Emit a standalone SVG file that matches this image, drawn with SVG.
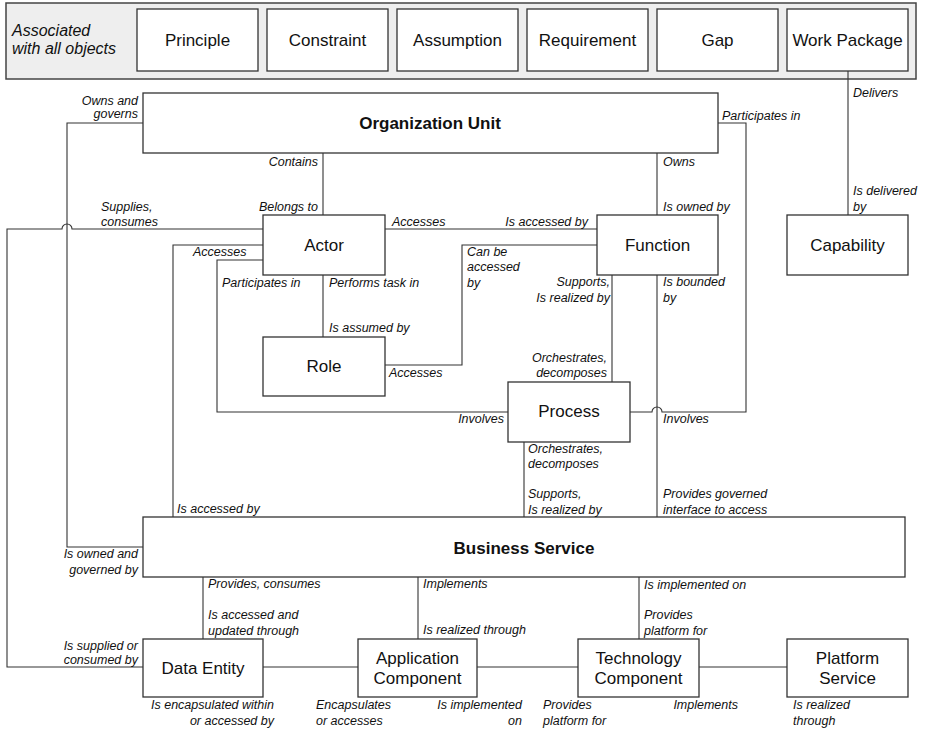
<svg xmlns="http://www.w3.org/2000/svg" width="927" height="730" viewBox="0 0 927 730">
<style>
.bg{fill:#ffffff}
.band{fill:#eeeeee;stroke:#444;stroke-width:1.5}
.box{fill:#ffffff;stroke:#333;stroke-width:1.3}
.n{font-family:"Liberation Sans",Arial,sans-serif;font-size:17px;fill:#111;text-anchor:middle}
.b{font-weight:bold}
.l{font-family:"Liberation Sans",Arial,sans-serif;font-size:12.5px;font-style:italic;fill:#111}
.e{text-anchor:end}
.c path{fill:none;stroke:#333;stroke-width:1.1}
</style>
<rect class="bg" x="0" y="0" width="927" height="730"/>
<g id="allobjects">
<rect class="band" x="6" y="3" width="910" height="76"/>
<text class="l" style="font-size:16px" x="12" y="36">Associated</text>
<text class="l" style="font-size:16px" x="12" y="54">with all objects</text>
</g>
<g id="principle"><rect class="box" x="137" y="9" width="121" height="62"/><text class="n" x="197.5" y="46">Principle</text></g>
<g id="constraint"><rect class="box" x="267" y="9" width="121" height="62"/><text class="n" x="327.5" y="46">Constraint</text></g>
<g id="assumption"><rect class="box" x="397" y="9" width="121" height="62"/><text class="n" x="457.5" y="46">Assumption</text></g>
<g id="requirement"><rect class="box" x="527" y="9" width="121" height="62"/><text class="n" x="587.5" y="46">Requirement</text></g>
<g id="gap"><rect class="box" x="657" y="9" width="121" height="62"/><text class="n" x="717.5" y="46">Gap</text></g>
<g id="workpackage"><rect class="box" x="787" y="9" width="121" height="62"/><text class="n" x="847.5" y="46">Work Package</text></g>

<g class="c" id="connectors">
<path d="M323,153 V215"/>
<path d="M657,153 V215"/>
<path d="M718,123 H746 V412 H662 A5,5 0 0 0 652,412 H630"/>
<path d="M143,123 H67 V547 H143"/>
<path d="M385,229 H597"/>
<path d="M263,229 H72 A5,5 0 0 0 62,229 H7 V667 H143"/>
<path d="M263,245 H173 V517"/>
<path d="M263,260 H217 V412 H508"/>
<path d="M323,275 V337"/>
<path d="M385,365 H462 V245 H597"/>
<path d="M612,275 V382"/>
<path d="M657,275 V517"/>
<path d="M524,442 V517"/>
<path d="M203,577 V639"/>
<path d="M418,577 V639"/>
<path d="M639,577 V639"/>
<path d="M263,667 H358"/>
<path d="M477,667 H578"/>
<path d="M699,667 H787"/>
<path d="M848,71 V215"/>
</g>

<g id="orgunit"><rect class="box" x="143" y="93" width="575" height="60"/><text class="n b" x="430" y="129">Organization Unit</text></g>
<g id="actor"><rect class="box" x="263" y="215" width="122" height="60"/><text class="n" x="324" y="251">Actor</text></g>
<g id="function"><rect class="box" x="597" y="215" width="121" height="60"/><text class="n" x="657.5" y="251">Function</text></g>
<g id="capability"><rect class="box" x="787" y="215" width="121" height="60"/><text class="n" x="847.5" y="251">Capability</text></g>
<g id="role"><rect class="box" x="263" y="337" width="122" height="59"/><text class="n" x="324" y="372">Role</text></g>
<g id="process"><rect class="box" x="508" y="382" width="122" height="60"/><text class="n" x="569" y="417">Process</text></g>
<g id="businessservice"><rect class="box" x="143" y="517" width="762" height="60"/><text class="n b" x="524" y="554">Business Service</text></g>
<g id="dataentity"><rect class="box" x="143" y="639" width="120" height="58"/><text class="n" x="203" y="674">Data Entity</text></g>
<g id="appcomponent"><rect class="box" x="358" y="639" width="119" height="58"/><text class="n" x="417.5" y="664">Application</text><text class="n" x="417.5" y="684">Component</text></g>
<g id="techcomponent"><rect class="box" x="578" y="639" width="121" height="58"/><text class="n" x="638.5" y="664">Technology</text><text class="n" x="638.5" y="684">Component</text></g>
<g id="platformservice"><rect class="box" x="787" y="639" width="121" height="58"/><text class="n" x="847.5" y="664">Platform</text><text class="n" x="847.5" y="684">Service</text></g>

<g id="labels">
<text class="l e" x="138" y="105">Owns and</text>
<text class="l e" x="138" y="118">governs</text>
<text class="l e" x="318" y="166">Contains</text>
<text class="l e" x="318" y="211">Belongs to</text>
<text class="l" x="101" y="211">Supplies,</text>
<text class="l" x="101" y="226">consumes</text>
<text class="l" x="392" y="226">Accesses</text>
<text class="l e" x="588" y="226">Is accessed by</text>
<text class="l" x="663" y="166">Owns</text>
<text class="l" x="663" y="211">Is owned by</text>
<text class="l" x="722" y="120">Participates in</text>
<text class="l" x="853" y="97">Delivers</text>
<text class="l" x="853" y="195">Is delivered</text>
<text class="l" x="853" y="211">by</text>
<text class="l" x="193" y="256">Accesses</text>
<text class="l" x="222" y="287">Participates in</text>
<text class="l" x="329" y="287">Performs task in</text>
<text class="l" x="467" y="256">Can be</text>
<text class="l" x="467" y="271">accessed</text>
<text class="l" x="467" y="287">by</text>
<text class="l e" x="610" y="286">Supports,</text>
<text class="l e" x="610" y="302">Is realized by</text>
<text class="l" x="663" y="286">Is bounded</text>
<text class="l" x="663" y="302">by</text>
<text class="l" x="329" y="332">Is assumed by</text>
<text class="l" x="389" y="377">Accesses</text>
<text class="l e" x="607" y="362">Orchestrates,</text>
<text class="l e" x="607" y="377">decomposes</text>
<text class="l e" x="504" y="423">Involves</text>
<text class="l" x="663" y="423">Involves</text>
<text class="l" x="528" y="453">Orchestrates,</text>
<text class="l" x="528" y="468">decomposes</text>
<text class="l" x="528" y="498">Supports,</text>
<text class="l" x="528" y="514">Is realized by</text>
<text class="l" x="663" y="498">Provides governed</text>
<text class="l" x="663" y="514">interface to access</text>
<text class="l" x="177" y="513">Is accessed by</text>
<text class="l e" x="138" y="558">Is owned and</text>
<text class="l e" x="138" y="574">governed by</text>
<text class="l" x="208" y="588">Provides, consumes</text>
<text class="l" x="208" y="619">Is accessed and</text>
<text class="l" x="208" y="635">updated through</text>
<text class="l" x="423" y="588">Implements</text>
<text class="l" x="423" y="634">Is realized through</text>
<text class="l" x="644" y="589">Is implemented on</text>
<text class="l" x="644" y="619">Provides</text>
<text class="l" x="644" y="635">platform for</text>
<text class="l e" x="138" y="650">Is supplied or</text>
<text class="l e" x="138" y="664">consumed by</text>
<text class="l e" x="274" y="709">Is encapsulated within</text>
<text class="l e" x="274" y="725">or accessed by</text>
<text class="l" x="316" y="709">Encapsulates</text>
<text class="l" x="316" y="725">or accesses</text>
<text class="l e" x="522" y="709">Is implemented</text>
<text class="l e" x="522" y="725">on</text>
<text class="l" x="543" y="709">Provides</text>
<text class="l" x="543" y="725">platform for</text>
<text class="l e" x="738" y="709">Implements</text>
<text class="l" x="793" y="709">Is realized</text>
<text class="l" x="793" y="725">through</text>
</g>
</svg>
